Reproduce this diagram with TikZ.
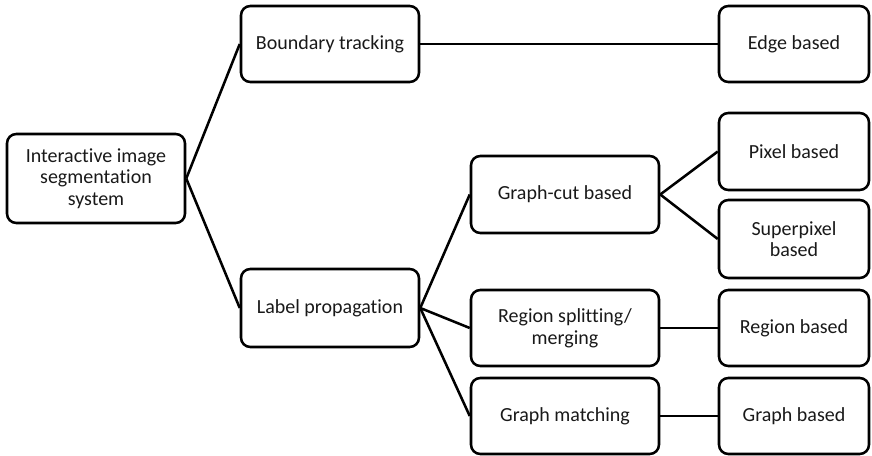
\documentclass[tikz,border=0pt]{standalone}
\usepackage{fontspec}
\setmainfont{Carlito}[Ligatures=CommonOff]
\begin{document}
\begin{tikzpicture}[x=0.75pt,y=-0.75pt,
  box/.style={draw=black,line width=1.9pt,rounded corners=7pt,align=center,
    inner sep=2pt,font=\fontsize{15}{16.3}\selectfont,text=black!90},
  wA/.style={minimum width=133.5pt},
  wB/.style={minimum width=141pt},
  wC/.style={minimum width=112.5pt},
  link/.style={line width=1.9pt,black}]
\useasboundingbox (0,0) rectangle (872,456);
\node[box,wA,minimum height=66.75pt] (sys) at (96,178.5) {Interactive image\\segmentation\\system};
\node[box,wA,minimum height=57pt] (bt) at (330,44) {Boundary tracking};
\node[box,wC,minimum height=57pt] (eb) at (794,44) {Edge based};
\node[box,wA,minimum height=58.5pt] (lp) at (330,308) {Label propagation};
\node[box,wB,minimum height=57.75pt] (gc) at (565,194.5) {Graph-cut based};
\node[box,wC,minimum height=57.75pt] (pb) at (794,151.5) {Pixel based};
\node[box,wC,minimum height=58.5pt] (sp) at (794,239) {Superpixel\\based};
\node[box,wB,minimum height=57pt] (rs) at (565,328) {Region splitting/\\merging};
\node[box,wC,minimum height=57pt] (rb) at (794,328) {Region based};
\node[box,wB,minimum height=57pt] (gm) at (565,416) {Graph matching};
\node[box,wC,minimum height=57pt] (gb) at (794,416) {Graph based};
\draw[link] (sys.east) -- (bt.west);
\draw[link] (sys.east) -- (lp.west);
\draw[link] (bt.east) -- (eb.west);
\draw[link] (lp.east) -- (gc.west);
\draw[link] (lp.east) -- (rs.west);
\draw[link] (lp.east) -- (gm.west);
\draw[link] (gc.east) -- (pb.west);
\draw[link] (gc.east) -- (sp.west);
\draw[link] (rs.east) -- (rb.west);
\draw[link] (gm.east) -- (gb.west);
\end{tikzpicture}
\end{document}
